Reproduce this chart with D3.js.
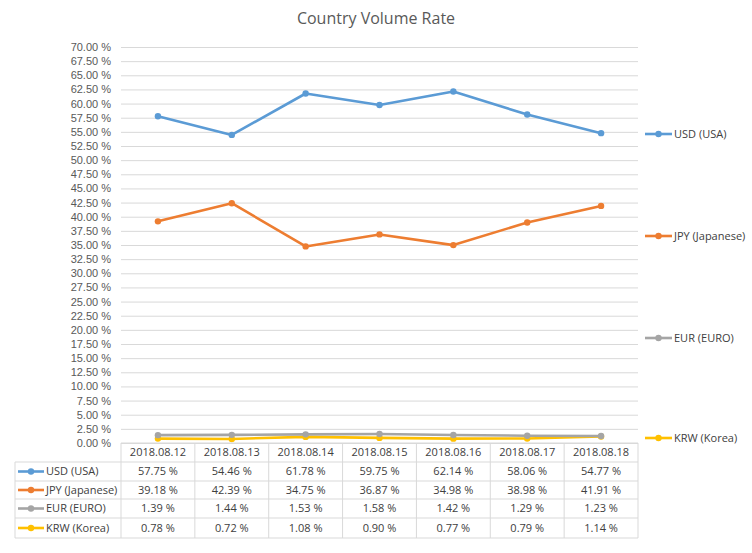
<!DOCTYPE html>
<html><head><meta charset="utf-8">
<script src="https://cdn.jsdelivr.net/npm/d3@7"></script>
<style>body{margin:0;background:#fff;}svg{display:block;font-family:"Segoe UI","Open Sans","Noto Sans",sans-serif;}</style>
</head><body>
<svg id="c" width="752" height="553"></svg>
<script>
const categories = ["2018.08.12","2018.08.13","2018.08.14","2018.08.15","2018.08.16","2018.08.17","2018.08.18"];
const seriesNames = ["USD (USA)","JPY (Japanese)","EUR (EURO)","KRW (Korea)"];
const usd = [57.75,54.46,61.78,59.75,62.14,58.06,54.77];
const jpy = [39.18,42.39,34.75,36.87,34.98,38.98,41.91];
const eur = [1.39,1.44,1.53,1.58,1.42,1.29,1.23];
const krw = [0.78,0.72,1.08,0.90,0.77,0.79,1.14];
const colors = ["#5B9BD5","#ED7D31","#A5A5A5","#FFC000"];
const yTicks = d3.range(0, 70.001, 2.5);
const title = "Country Volume Rate";
const series = [usd,jpy,eur,krw].map((v,i)=>({name:seriesNames[i],values:v,color:colors[i]}));

const svg = d3.select("#c");
const L = 121, R = 638, T = 47, B = 443;
const x = d3.scaleBand().domain(categories).range([L,R]);
const y = d3.scaleLinear().domain([0,70]).range([B,T]);

svg.append("text").attr("x",376).attr("y",24).attr("text-anchor","middle")
  .attr("font-size",16).attr("fill","#595959").text(title);

const gy = svg.append("g").attr("transform",`translate(${L},0)`)
  .call(d3.axisLeft(y).tickValues(yTicks).tickSize(-(R-L)).tickFormat(d=>d.toFixed(2)+" %"));
gy.select(".domain").remove();
gy.selectAll(".tick line").attr("stroke","#D9D9D9");
gy.selectAll(".tick text").attr("x",-10).attr("font-size",11).attr("fill","#595959").attr("font-family","inherit");

const line = d3.line().x((d,i)=>x(categories[i])+x.bandwidth()/2).y(d=>y(d));
series.slice().reverse().forEach(s=>{
  svg.append("path").attr("d",line(s.values)).attr("fill","none").attr("stroke",s.color)
    .attr("stroke-width",2.6).attr("stroke-linejoin","round").attr("stroke-linecap","round");
  svg.selectAll(null).data(s.values).enter().append("circle")
    .attr("cx",(d,i)=>x(categories[i])+x.bandwidth()/2).attr("cy",d=>y(d)).attr("r",3.2).attr("fill",s.color);
});

// right legend
const legY = [134,236,338,438];
series.forEach((s,i)=>{
  const g = svg.append("g").attr("transform",`translate(645,${legY[i]})`);
  g.append("line").attr("x1",0).attr("x2",27).attr("stroke",s.color).attr("stroke-width",2.6);
  g.append("circle").attr("cx",13.5).attr("r",3.2).attr("fill",s.color);
  g.append("text").attr("x",29).attr("dy","0.35em").attr("font-size",11).attr("fill","#404040").text(s.name);
});

// data table
const rowEdges = [443,462,481,499,518,538];
const tl = 15;
const grid = "#D9D9D9";
const tg = svg.append("g");
// header row verticals
categories.forEach((c,i)=>{
  const x0 = x(c);
  tg.append("line").attr("x1",x0).attr("x2",x0).attr("y1",rowEdges[0]).attr("y2",rowEdges[5]).attr("stroke",grid);
  tg.append("text").attr("x",x0+x.bandwidth()/2).attr("y",(rowEdges[0]+rowEdges[1])/2).attr("dy","0.35em")
    .attr("text-anchor","middle").attr("font-size",11).attr("fill","#404040").text(c);
});
tg.append("line").attr("x1",R).attr("x2",R).attr("y1",rowEdges[0]).attr("y2",rowEdges[5]).attr("stroke",grid);
tg.append("line").attr("x1",tl).attr("x2",tl).attr("y1",rowEdges[1]).attr("y2",rowEdges[5]).attr("stroke",grid);
tg.append("line").attr("x1",L).attr("x2",R).attr("y1",rowEdges[0]).attr("y2",rowEdges[0]).attr("stroke",grid);
for(let r=1;r<=5;r++){
  tg.append("line").attr("x1",tl).attr("x2",R).attr("y1",rowEdges[r]).attr("y2",rowEdges[r]).attr("stroke",grid);
}
series.forEach((s,r)=>{
  const cy = (rowEdges[r+1]+rowEdges[r+2])/2;
  tg.append("line").attr("x1",18).attr("x2",44).attr("y1",cy).attr("y2",cy).attr("stroke",s.color).attr("stroke-width",2.6);
  tg.append("circle").attr("cx",31).attr("cy",cy).attr("r",3.2).attr("fill",s.color);
  tg.append("text").attr("x",46).attr("y",cy).attr("dy","0.35em").attr("font-size",11).attr("fill","#404040").text(s.name);
  s.values.forEach((v,i)=>{
    tg.append("text").attr("x",x(categories[i])+x.bandwidth()/2).attr("y",cy).attr("dy","0.35em")
      .attr("text-anchor","middle").attr("font-size",11).attr("fill","#404040").text(v.toFixed(2)+" %");
  });
});
</script>
</body></html>
